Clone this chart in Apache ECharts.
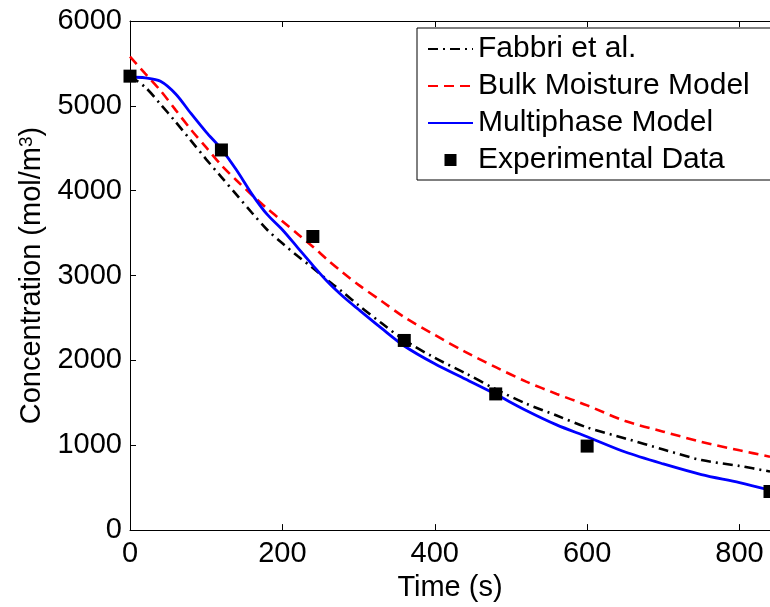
<!DOCTYPE html>
<html>
<head>
<meta charset="utf-8">
<script src="https://cdn.jsdelivr.net/npm/echarts@6/dist/echarts.min.js"></script>
<style>
  html, body { margin: 0; padding: 0; background: #fff; }
  #chart { width: 770px; height: 607px; }
</style>
</head>
<body>
<div id="chart"></div>
<script>
// time grid shared by the three model curves (s)
var timeModel = [0, 20, 40, 60, 80, 100, 120, 140, 160, 180, 200, 220, 240, 260, 280, 300, 330, 360, 400, 440, 480, 520, 560, 600, 650, 700, 750, 800, 840];
// (mol/m3)
var concFabbri = [5350, 5220, 5020, 4810, 4590, 4370, 4160, 3950, 3740, 3540, 3380, 3230, 3090, 2940, 2800, 2650, 2440, 2240, 2030, 1850, 1660, 1490, 1350, 1210, 1080, 950, 825, 756, 690];
var concBulk = [5580, 5380, 5180, 4950, 4720, 4510, 4300, 4120, 3950, 3790, 3640, 3490, 3340, 3180, 3030, 2890, 2700, 2510, 2300, 2100, 1920, 1750, 1605, 1470, 1285, 1160, 1040, 940, 865];
var concMulti = [5340, 5330, 5290, 5140, 4910, 4690, 4490, 4240, 3960, 3720, 3540, 3330, 3120, 2920, 2750, 2600, 2380, 2170, 1960, 1780, 1600, 1410, 1240, 1100, 920, 780, 655, 560, 470];
// experimental points
var timeExp = [0, 120, 240, 360, 480, 600, 840];
var concExp = [5350, 4480, 3460, 2235, 1605, 990, 455];

var seriesNames = ['Fabbri et al.', 'Bulk Moisture Model', 'Multiphase Model', 'Experimental Data'];

function zip(xs, ys) {
  return xs.map(function (x, i) { return [x, ys[i]]; });
}

var font = 'Liberation Sans, Arial, Helvetica, sans-serif';
var chart = echarts.init(document.getElementById('chart'));

var xBase = {
  type: 'value',
  min: 0,
  max: 840,
  interval: 200,
  axisLine: { show: true, lineStyle: { color: '#000', width: 1 } },
  axisTick: { show: true, inside: true, length: 6, lineStyle: { color: '#000' } },
  splitLine: { show: false }
};

// square legend marker centred in a 45x12 icon box
var squareIcon = 'path://M0,0h0.01v0.01h-0.01z M16.5,0h12v12h-12z M44.99,11.99h0.01v0.01h-0.01z';

var option = {
  animation: false,
  backgroundColor: '#fff',
  textStyle: { fontFamily: font },
  grid: { left: 130, right: 0, top: 21, bottom: 70, containLabel: false },
  legend: {
    orient: 'vertical',
    left: 417,
    top: 28,
    padding: [6, 30, 5, 10],
    itemWidth: 45,
    itemHeight: 12,
    itemGap: 7,
    backgroundColor: '#fff',
    borderColor: '#000',
    borderWidth: 1,
    borderRadius: 0,
    selectedMode: false,
    itemStyle: { opacity: 0 },
    textStyle: { fontFamily: font, fontSize: 30, color: '#000' },
    data: [
      { name: seriesNames[0] },
      { name: seriesNames[1] },
      { name: seriesNames[2] },
      { name: seriesNames[3], icon: squareIcon, itemStyle: { opacity: 1, color: '#000' } }
    ]
  },
  xAxis: [
    Object.assign({}, xBase, {
      position: 'bottom',
      name: 'Time (s)',
      nameLocation: 'middle',
      nameGap: 33,
      nameTextStyle: { fontFamily: font, fontSize: 29, color: '#000' },
      axisLabel: { show: true, margin: 9, showMaxLabel: false, fontFamily: font, fontSize: 29, color: '#000' }
    }),
    Object.assign({}, xBase, {
      position: 'top',
      axisLabel: { show: false }
    })
  ],
  yAxis: {
    type: 'value',
    min: 0,
    max: 6000,
    interval: 1000,
    name: 'Concentration (mol/m{sup|3})',
    nameLocation: 'middle',
    nameGap: 80,
    nameTextStyle: {
      fontFamily: font,
      fontSize: 29,
      color: '#000',
      rich: {
        sup: { fontFamily: font, fontSize: 19, color: '#000', verticalAlign: 'top', lineHeight: 29 }
      }
    },
    axisLine: { show: true, lineStyle: { color: '#000', width: 1 } },
    axisTick: { show: true, inside: true, length: 6, lineStyle: { color: '#000' } },
    axisLabel: {
      margin: 8, fontFamily: font, fontSize: 29, color: '#000',
      formatter: function (v) { return String(v); }
    },
    splitLine: { show: false }
  },
  series: [
    {
      name: seriesNames[0],
      type: 'line',
      symbol: 'none',
      smooth: 0.3,
      lineStyle: { color: '#000', width: 2.6, type: [10, 5, 2, 5] },
      itemStyle: { color: '#000' },
      data: zip(timeModel, concFabbri)
    },
    {
      name: seriesNames[1],
      type: 'line',
      symbol: 'none',
      smooth: 0.3,
      lineStyle: { color: '#ff0000', width: 2.6, type: [10, 6] },
      itemStyle: { color: '#ff0000' },
      data: zip(timeModel, concBulk)
    },
    {
      name: seriesNames[2],
      type: 'line',
      symbol: 'none',
      smooth: 0.3,
      lineStyle: { color: '#0000ff', width: 2.8, type: 'solid' },
      itemStyle: { color: '#0000ff' },
      data: zip(timeModel, concMulti)
    },
    {
      name: seriesNames[3],
      type: 'scatter',
      symbol: 'rect',
      symbolSize: 13,
      clip: false,
      itemStyle: { color: '#000', opacity: 1 },
      data: zip(timeExp, concExp),
      z: 5
    }
  ]
};

chart.setOption(option);
</script>
</body>
</html>
